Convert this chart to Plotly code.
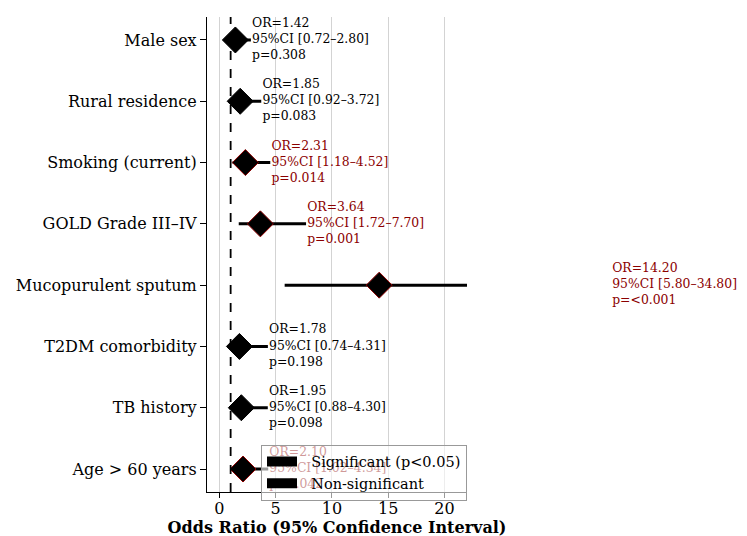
import plotly.graph_objects as go

factors = ["Male sex", "Rural residence", "Smoking (current)", "GOLD Grade III\u2013IV",
           "Mucopurulent sputum", "T2DM comorbidity", "TB history", "Age > 60 years"]
odds_ratio = [1.42, 1.85, 2.31, 3.64, 14.20, 1.78, 1.95, 2.10]
ci_lower = [0.72, 0.92, 1.18, 1.72, 5.80, 0.74, 0.88, 1.02]
ci_upper = [2.80, 3.72, 4.52, 7.70, 34.80, 4.31, 4.30, 4.34]
p_values = ["0.308", "0.083", "0.014", "0.001", "<0.001", "0.198", "0.098", "0.042"]
significant = [False, False, True, True, True, False, False, True]
legend_names = ["Significant (p<0.05)", "Non-significant"]
x_ticks = [0, 5, 10, 15, 20]
NULL_OR = 1

FONT = "DejaVu Serif"
SIG_COLOR = "#8b0000"

W, H = 747, 536
ML, MR, MT, MB = 199, 0, 9, 52
PLOT_W = 260            # width of the main x-axis in px
X_MIN, X_MAX = -1.1, 22
dom_end = PLOT_W / (W - ML - MR)
x2_max = X_MIN + (X_MAX - X_MIN) / dom_end

ypos = list(range(len(factors)))

fig = go.Figure()

# error bars + diamonds
fig.add_trace(go.Scatter(
    x=odds_ratio, y=ypos, mode="markers", showlegend=False,
    error_x=dict(type="data", symmetric=False,
                 array=[u - o for u, o in zip(ci_upper, odds_ratio)],
                 arrayminus=[o - l for o, l in zip(odds_ratio, ci_lower)],
                 color="black", thickness=3, width=0),
    marker=dict(symbol="diamond", size=20, color="black",
                line=dict(color=[SIG_COLOR if s else "black" for s in significant], width=1)),
    hoverinfo="skip",
))

# annotation texts (on a wider invisible axis with the same scale so long CIs stay visible)
labels = [f"OR={o:.2f}<br>95%CI [{l:.2f}\u2013{u:.2f}]<br>p={p}"
          for o, l, u, p in zip(odds_ratio, ci_lower, ci_upper, p_values)]
fig.add_trace(go.Scatter(
    x=[u + 0.1 for u in ci_upper], y=ypos, mode="text", text=labels,
    xaxis="x2", yaxis="y",
    textposition="middle right", cliponaxis=False, showlegend=False,
    textfont=dict(family=FONT, size=12.4,
                  color=[SIG_COLOR if s else "black" for s in significant]),
    hoverinfo="skip",
))

# legend entries
for name in legend_names:
    fig.add_trace(go.Scatter(x=[None], y=[None], mode="lines", name="\u00a0\u00a0" + name,
                             line=dict(color="black", width=10)))

fig.add_shape(type="line", x0=NULL_OR, x1=NULL_OR, y0=0, y1=1, xref="x", yref="paper",
              line=dict(color="black", width=1.8, dash="dash"))

fig.update_layout(
    width=W, height=H,
    margin=dict(l=ML, r=MR, t=MT, b=MB),
    plot_bgcolor="rgba(0,0,0,0)", paper_bgcolor="white",
    font=dict(family=FONT, color="black", size=16),
    xaxis=dict(domain=[0, dom_end], range=[X_MIN, X_MAX], tickvals=x_ticks,
               showgrid=True, gridcolor="#d3d3d3", gridwidth=1.3, zeroline=False,
               showline=True, linecolor="black", linewidth=1.3,
               ticks="outside", ticklen=5, tickcolor="black", anchor="y",
               ticklabelstandoff=-3,
               tickfont=dict(family=FONT, size=16),
               title=dict(text="<b>Odds Ratio (95% Confidence Interval)</b>",
                          font=dict(family=FONT, size=16), standoff=0)),
    xaxis2=dict(domain=[0, 1], range=[X_MIN, x2_max], visible=False, anchor="y"),
    yaxis=dict(range=[7.375, -0.375], tickvals=ypos, ticktext=factors, showgrid=False,
               zeroline=False, showline=True, linecolor="black", linewidth=1.3,
               ticks="outside", ticklen=6, tickcolor="black", anchor="x",
               tickfont=dict(family=FONT, size=16)),
    legend=dict(x=dom_end, xanchor="right", y=0.1, yanchor="top",
                bgcolor="rgba(255,255,255,0.6)", bordercolor="#999999", borderwidth=1,
                font=dict(family=FONT, size=14.5), tracegroupgap=0, itemwidth=30),
)

fig.write_html("out.html")
